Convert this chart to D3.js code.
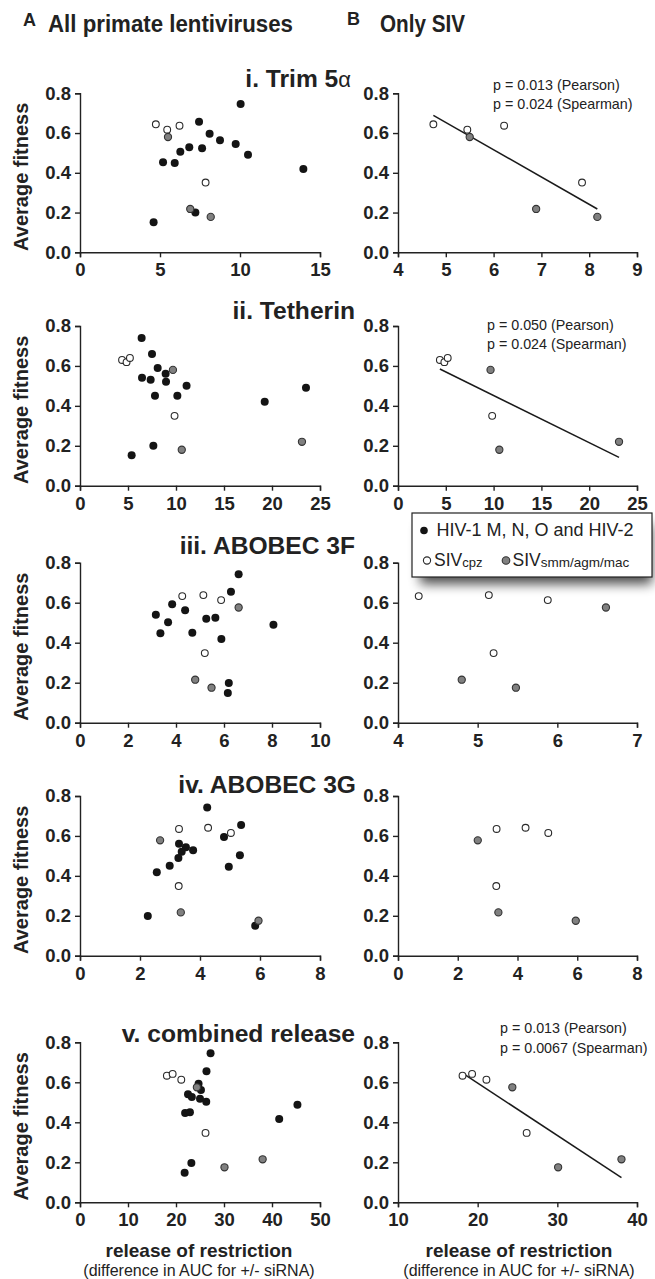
<!DOCTYPE html>
<html><head><meta charset="utf-8">
<script src="https://cdn.jsdelivr.net/npm/d3@7"></script>
<style>body{margin:0;background:#fff}svg{display:block}text{font-family:"Liberation Sans",Arial,Helvetica,sans-serif}</style>
</head><body><svg id="c" width="655" height="1279"></svg>
<script>
// ---------------- data ----------------
const panelTitles = ["i. Trim 5", "ii. Tetherin", "iii. ABOBEC 3F", "iv. ABOBEC 3G", "v. combined release"];
const leftXDomains = [[0,15],[0,25],[0,10],[0,8],[0,50]];
const rightXDomains = [[4,9],[0,25],[4,7],[0,8],[10,40]];
const leftXTicks = [[0,5,10,15],[0,5,10,15,20,25],[0,2,4,6,8,10],[0,2,4,6,8],[0,10,20,30,40,50]];
const rightXTicks = [[4,5,6,7,8,9],[0,5,10,15,20,25],[4,5,6,7],[0,2,4,6,8],[10,20,30,40]];
const yTicks = [0,0.2,0.4,0.6,0.8];

// [release of restriction, average fitness]
const trimHIV = [[10.04,0.746],[7.44,0.657],[8.10,0.597],[8.75,0.564],[9.73,0.545],[10.5,0.491],[6.27,0.506],[6.83,0.528],[7.63,0.523],[5.19,0.453],[5.92,0.449],[13.96,0.419],[4.60,0.151],[7.21,0.200]];
const trimCPZ = [[4.74,0.644],[5.45,0.617],[6.22,0.637],[7.85,0.351]];
const trimSMM = [[5.50,0.580],[6.89,0.218],[8.17,0.178]];

const tethHIV = [[6.42,0.740],[7.50,0.660],[8.09,0.590],[8.92,0.561],[6.46,0.541],[7.36,0.531],[8.96,0.521],[11.1,0.501],[7.81,0.451],[10.14,0.451],[19.24,0.421],[23.54,0.491],[7.64,0.200],[5.38,0.152]];
const tethCPZ = [[4.38,0.630],[4.85,0.619],[5.20,0.640],[9.85,0.350]];
const tethSMM = [[9.68,0.580],[10.60,0.180],[23.12,0.220]];

const a3fHIV = [[6.61,0.742],[6.29,0.655],[3.84,0.592],[4.38,0.562],[3.16,0.540],[3.67,0.502],[5.26,0.520],[5.64,0.525],[4.68,0.450],[3.35,0.447],[5.89,0.418],[8.06,0.490],[6.20,0.198],[6.16,0.148]];
const a3fCPZ = [[4.26,0.633],[5.14,0.638],[5.88,0.613],[5.20,0.348]];
const a3fSMM = [[6.61,0.576],[4.80,0.215],[5.48,0.175]];

const a3gHIV = [[4.24,0.743],[5.37,0.655],[4.80,0.595],[3.30,0.561],[3.53,0.543],[3.77,0.528],[3.39,0.521],[3.28,0.489],[5.33,0.503],[2.99,0.451],[4.96,0.446],[2.56,0.418],[2.26,0.199],[5.84,0.150]];
const a3gCPZ = [[3.30,0.635],[4.27,0.641],[5.03,0.615],[3.29,0.349]];
const a3gSMM = [[2.67,0.578],[3.36,0.217],[5.95,0.175]];

const combHIV = [[27.2,0.745],[26.35,0.655],[24.7,0.593],[25.2,0.562],[22.5,0.540],[23.3,0.527],[25.0,0.518],[26.3,0.503],[21.9,0.447],[22.9,0.450],[41.5,0.417],[45.3,0.488],[23.2,0.197],[21.8,0.148]];
const combCPZ = [[18.1,0.633],[19.3,0.642],[21.1,0.613],[26.15,0.347]];
const combSMM = [[24.35,0.575],[38.05,0.215],[30.1,0.175]];

const pearsonP = ["0.013","0.050",null,null,"0.013"];
const spearmanP = ["0.024","0.024",null,null,"0.0067"];
const legendLabels = ["HIV-1 M, N, O and HIV-2","SIV","SIV"];
const legendSubs = ["","cpz","smm/agm/mac"];

// ---------------- drawing ----------------
const FONT = '"Liberation Sans",Arial,Helvetica,sans-serif';
const svg = d3.select("#c");
const defs = svg.append("defs");
const filt = defs.append("filter").attr("id","sh").attr("x","-30%").attr("y","-30%").attr("width","160%").attr("height","200%");
filt.append("feGaussianBlur").attr("stdDeviation",6);

const hivSets = [trimHIV, tethHIV, a3fHIV, a3gHIV, combHIV];
const cpzSets = [trimCPZ, tethCPZ, a3fCPZ, a3gCPZ, combCPZ];
const smmSets = [trimSMM, tethSMM, a3fSMM, a3gSMM, combSMM];

const rowTop = [93.3, 326, 562.7, 796, 1042.3];
const rowBot = [252.3, 485.7, 722.7, 955.7, 1202.3];
const titleY = [86.7, 319, 554, 793, 1042];
const titleEnd = [351, 355, 355, 356, 355];
const pTextPos = [[493,89.5],[487,329.5],null,null,[500,1033]];
const LX = [80,320], RX = [398,637];

// header
svg.append("text").attr("x",23).attr("y",25.5).attr("font-size",18).attr("font-weight","bold").attr("fill","#222").text("A");
svg.append("text").attr("x",48).attr("y",32).attr("font-size",23).attr("font-weight","bold").attr("fill","#222")
  .attr("textLength",245).attr("lengthAdjust","spacingAndGlyphs").text("All primate lentiviruses");
svg.append("text").attr("x",347).attr("y",25).attr("font-size",18).attr("font-weight","bold").attr("fill","#222").text("B");
svg.append("text").attr("x",380).attr("y",32).attr("font-size",23).attr("font-weight","bold").attr("fill","#222")
  .attr("textLength",85).attr("lengthAdjust","spacingAndGlyphs").text("Only SIV");

function styleAxis(g){
  g.attr("font-family",FONT).attr("font-size",18.5).attr("font-weight","bold");
  g.select(".domain").attr("stroke","#222").attr("stroke-width",1.4);
  g.selectAll(".tick line").attr("stroke","#222").attr("stroke-width",1.4);
  g.selectAll(".tick text").attr("fill","#222");
}

function drawPoints(g, data, x, y, kind){
  const sel = g.selectAll(null).data(data).enter().append("circle")
    .attr("cx",d=>x(d[0])).attr("cy",d=>y(d[1]));
  if(kind==="hiv") sel.attr("r",4).attr("fill","#141414");
  else if(kind==="cpz") sel.attr("r",3.4).attr("fill","#fff").attr("stroke","#2a2a2a").attr("stroke-width",1.1);
  else sel.attr("r",3.6).attr("fill","#808080").attr("stroke","#333").attr("stroke-width",1.1);
}

for(let r=0;r<5;r++){
  const y = d3.scaleLinear([0,0.8],[rowBot[r],rowTop[r]]);
  // left panel
  const xl = d3.scaleLinear(leftXDomains[r], LX);
  const gl = svg.append("g");
  gl.append("g").attr("transform",`translate(${LX[0]},0)`)
    .call(d3.axisLeft(y).tickValues(yTicks).tickFormat(d3.format(".1f")).tickSizeOuter(0).tickSize(5).tickPadding(4)).call(styleAxis);
  gl.append("g").attr("transform",`translate(0,${rowBot[r]})`)
    .call(d3.axisBottom(xl).tickValues(leftXTicks[r]).tickFormat(d3.format("d")).tickSizeOuter(0).tickSize(5).tickPadding(6)).call(styleAxis);
  drawPoints(gl, hivSets[r], xl, y, "hiv");
  drawPoints(gl, cpzSets[r], xl, y, "cpz");
  drawPoints(gl, smmSets[r], xl, y, "smm");
  // y label
  svg.append("text").attr("transform",`translate(28,${(rowTop[r]+rowBot[r])/2+4}) rotate(-90)`)
    .attr("text-anchor","middle").attr("font-size",20).attr("font-weight","bold").attr("fill","#222").text("Average fitness");
  // title
  const t = svg.append("text").attr("x",titleEnd[r]).attr("y",titleY[r]).attr("text-anchor","end")
    .attr("font-size",24.6).attr("font-weight","bold").attr("fill","#222").text(panelTitles[r]);
  if(r===0) t.append("tspan").attr("font-weight","normal").attr("font-size",22).text("\u03B1");

  // right panel
  const xr = d3.scaleLinear(rightXDomains[r], RX);
  const gr = svg.append("g");
  gr.append("g").attr("transform",`translate(${RX[0]},0)`)
    .call(d3.axisLeft(y).tickValues(yTicks).tickFormat(d3.format(".1f")).tickSizeOuter(0).tickSize(5).tickPadding(4)).call(styleAxis);
  gr.append("g").attr("transform",`translate(0,${rowBot[r]})`)
    .call(d3.axisBottom(xr).tickValues(rightXTicks[r]).tickFormat(d3.format("d")).tickSizeOuter(0).tickSize(5).tickPadding(6)).call(styleAxis);
  const siv = cpzSets[r].concat(smmSets[r]);
  if(pearsonP[r]){
    const mx = d3.mean(siv,d=>d[0]), my = d3.mean(siv,d=>d[1]);
    const sxy = d3.sum(siv,d=>(d[0]-mx)*(d[1]-my)), sxx = d3.sum(siv,d=>(d[0]-mx)**2);
    const b = sxy/sxx, a = my - b*mx;
    const ext = d3.extent(siv,d=>d[0]);
    gr.append("line").attr("x1",xr(ext[0])).attr("y1",y(a+b*ext[0])).attr("x2",xr(ext[1])).attr("y2",y(a+b*ext[1]))
      .attr("stroke","#1a1a1a").attr("stroke-width",1.5);
    const [px,py] = pTextPos[r];
    gr.append("text").attr("x",px).attr("y",py).attr("font-size",14.3).attr("fill","#222").text(`p = ${pearsonP[r]} (Pearson)`);
    gr.append("text").attr("x",px).attr("y",py+19.7).attr("font-size",14.3).attr("fill","#222").text(`p = ${spearmanP[r]} (Spearman)`);
  }
  drawPoints(gr, cpzSets[r], xr, y, "cpz");
  drawPoints(gr, smmSets[r], xr, y, "smm");
}

// x-axis labels
[199,519].forEach(cx=>{
  svg.append("text").attr("x",cx).attr("y",1257).attr("text-anchor","middle").attr("font-size",19).attr("font-weight","bold").attr("fill","#222").text("release of restriction");
  svg.append("text").attr("x",cx).attr("y",1276).attr("text-anchor","middle").attr("font-size",16).attr("fill","#222").text("(difference in AUC for +/- siRNA)");
});

// legend
const lg = svg.append("g");
lg.append("rect").attr("x",420).attr("y",524).attr("width",232).attr("height",60).attr("fill","#000").attr("opacity",0.7).attr("filter","url(#sh)");
lg.append("rect").attr("x",412).attr("y",513).attr("width",240).attr("height",64).attr("fill","#fff").attr("stroke","#222").attr("stroke-width",1.2);
lg.append("circle").attr("cx",424).attr("cy",530.5).attr("r",3.8).attr("fill","#141414");
lg.append("text").attr("x",436.5).attr("y",536).attr("font-size",17.5).attr("fill","#222")
  .attr("textLength",197).attr("lengthAdjust","spacingAndGlyphs").text(legendLabels[0]);
lg.append("circle").attr("cx",427).attr("cy",560.5).attr("r",3.6).attr("fill","#fff").attr("stroke","#2a2a2a").attr("stroke-width",1.1);
const t1 = lg.append("text").attr("x",434).attr("y",565.5).attr("font-size",17.5).attr("fill","#222");
t1.append("tspan").text(legendLabels[1]);
t1.append("tspan").attr("font-size",13).attr("dy",1).text(legendSubs[1]);
lg.append("circle").attr("cx",506).attr("cy",560.5).attr("r",3.8).attr("fill","#808080").attr("stroke","#333").attr("stroke-width",1.1);
const t2 = lg.append("text").attr("x",512.5).attr("y",565.5).attr("font-size",17.5).attr("fill","#222");
t2.append("tspan").text(legendLabels[2]);
t2.append("tspan").attr("font-size",13.5).attr("dy",1).text(legendSubs[2]);
</script>
</body></html>
